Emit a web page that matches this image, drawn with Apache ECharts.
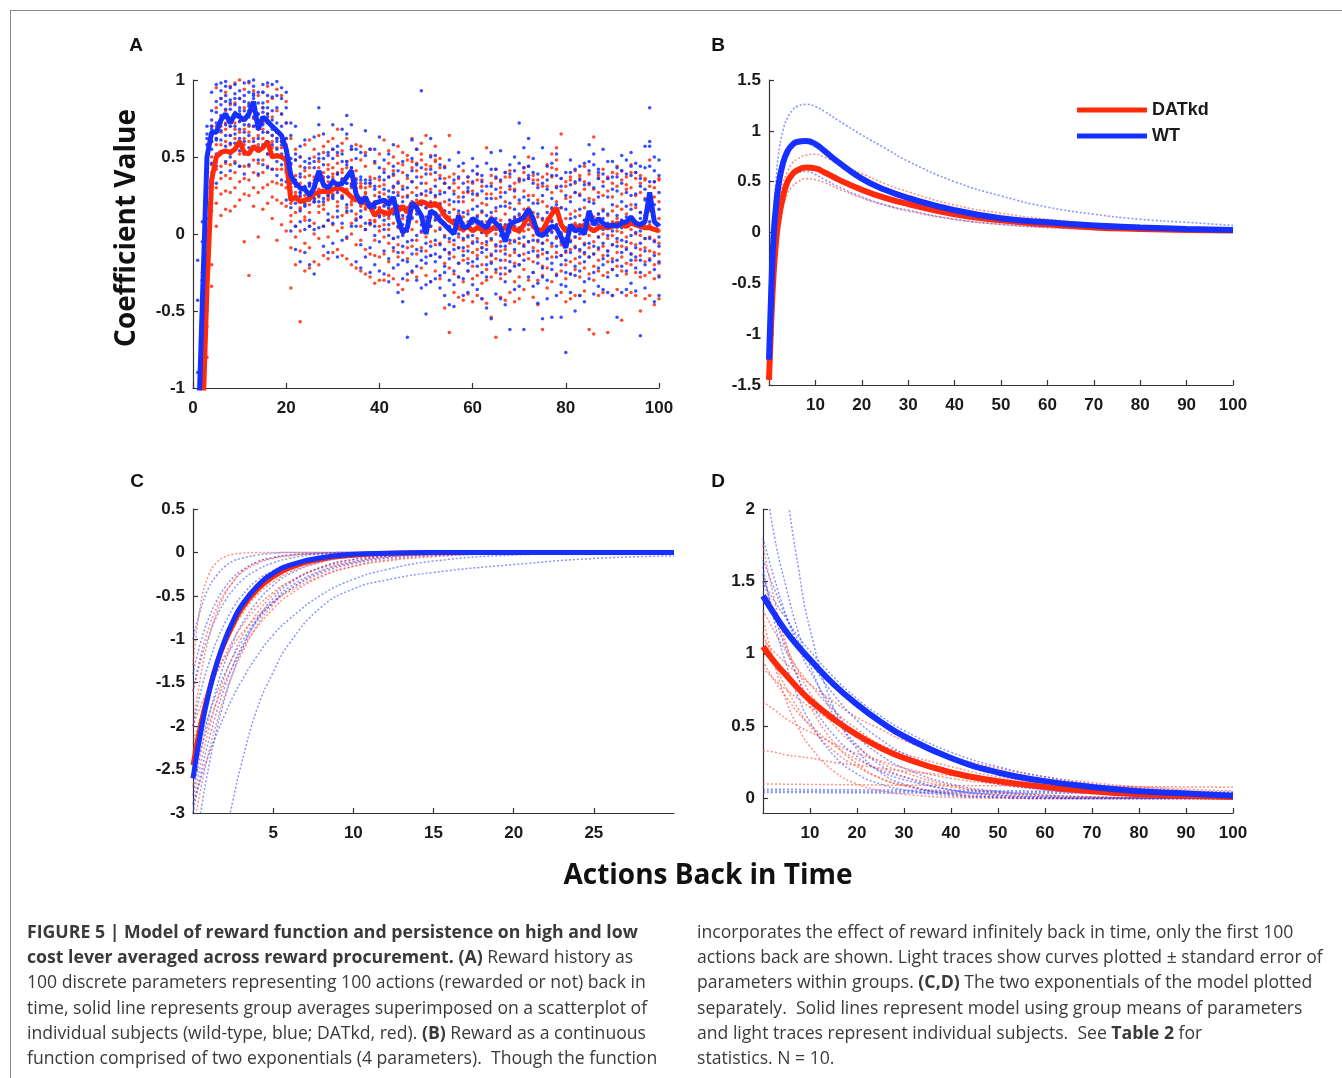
<!DOCTYPE html>
<html><head><meta charset="utf-8">
<script src="https://cdn.jsdelivr.net/npm/echarts@6/dist/echarts.min.js"></script>
<style>html,body{margin:0;padding:0;background:#fff}#c{width:1342px;height:1078px}</style>
</head><body><div id="c"></div>
<script>
// ---------- Panel A: group means (lags 1..100) ----------
const WT_MEAN_A = [-1.4,-0.45,0.5,0.66,0.66,0.74,0.78,0.72,0.78,0.76,0.74,0.78,0.86,0.68,0.76,0.73,0.7,0.67,0.64,0.55,
0.38,0.33,0.3,0.29,0.25,0.3,0.41,0.32,0.3,0.34,0.32,0.33,0.37,0.41,0.26,0.2,0.24,0.17,0.2,0.21,
0.22,0.19,0.24,0.1,0.01,0.04,0.2,0.17,0.12,0.0,0.15,0.13,0.09,0.06,0.03,0.0,0.12,0.04,0.05,0.1,
0.08,0.06,0.04,0.1,0.07,0.04,-0.05,0.06,0.08,0.09,0.11,0.16,0.1,0.0,-0.01,0.02,0.05,0.04,-0.02,-0.09,
0.06,0.02,0.03,0.0,0.15,0.06,0.1,0.07,0.05,0.06,0.05,0.07,0.08,0.11,0.07,0.06,0.08,0.27,0.08,0.05];
const KD_MEAN_A = [-2.2,-1.3,-0.35,0.35,0.5,0.53,0.54,0.53,0.55,0.6,0.53,0.52,0.57,0.54,0.56,0.6,0.5,0.51,0.5,0.48,
0.22,0.24,0.21,0.22,0.23,0.26,0.27,0.28,0.27,0.29,0.3,0.29,0.27,0.24,0.22,0.23,0.2,0.18,0.12,0.15,
0.14,0.13,0.16,0.15,0.18,0.14,0.2,0.19,0.21,0.2,0.18,0.2,0.17,0.12,0.09,0.07,0.04,0.03,0.05,0.02,
0.04,0.03,0.01,0.03,0.05,0.03,0.04,0.06,0.03,0.02,0.06,0.13,0.05,0.03,0.02,0.08,0.13,0.17,0.06,0.02,
0.03,0.05,0.04,0.06,0.04,0.02,0.04,0.05,0.04,0.05,0.07,0.06,0.05,0.07,0.06,0.05,0.04,0.04,0.03,0.02];

// ---------- Panel A: individual subjects, one row per lag (values x100) ----------
const WT_SUBJ_A = [
[-17,-43,-90,-120,-150,-160,-180,-140,-200,-130],[8,-5,-25,-40,-55,-70,-45,-30,-90,-60],[65,58,52,40,20,46,70,30,50,62],
[92,80,74,70,64,60,55,46,36,68],[97,86,79,72,66,61,52,44,33,62],[98,93,84,77,72,67,61,53,40,88],[96,90,86,81,76,71,64,57,47,99],
[95,87,81,74,70,64,59,50,41,85],[97,91,84,79,76,70,65,59,46,88],[93,88,82,78,73,68,62,54,44,80],[90,86,80,75,71,66,60,52,39,98],
[99,92,85,80,76,71,64,56,45,83],[100,96,91,88,85,81,76,70,60,90],[92,85,78,73,68,62,56,48,39,70],[97,92,85,79,75,71,66,58,45,82],
[98,90,82,76,72,66,60,52,43,78],[97,89,80,74,70,64,58,50,42,68],[99,90,82,72,66,60,55,47,38,62],[95,88,78,70,64,58,52,45,35,60],
[92,82,72,62,56,48,41,34,22,50],
[72,64,49,46,35,33,22,17,2,28],[70,52,48,35,34,23,20,5,-10,31],[57,50,39,37,27,27,15,8,-18,25],[61,47,43,30,31,19,18,3,-12,30],
[49,46,33,32,22,22,9,5,-20,31],[63,47,43,31,33,21,21,3,-26,23],[82,71,52,49,37,37,25,21,4,35],[65,49,45,33,33,23,21,5,-8,31],
[53,51,37,37,25,25,13,9,-12,27],[71,55,49,35,35,25,23,7,-6,33],[57,53,39,39,29,29,15,11,-15,27],[68,52,47,35,35,24,23,7,-4,32],
[77,65,47,45,33,33,19,15,-2,37],[71,57,55,43,43,32,31,15,5,41],[55,49,35,33,22,23,9,5,-18,25],[53,37,35,21,23,11,11,-7,-22,15],
[67,51,35,33,21,21,7,3,-15,23],[55,35,33,19,19,7,7,-9,-25,17],[55,47,31,29,17,17,5,-1,-20,19],[63,43,37,24,24,12,11,-5,-24,15],
[48,35,29,22,18,9,3,-11,-26,40],[52,28,24,17,12,6,-1,-16,-31,37],[44,39,31,27,20,13,-3,-9,-22,58],[33,25,18,9,5,-2,-12,-20,-38,41],
[29,21,12,6,-1,-8,-17,-29,-44,47],[38,30,16,11,2,-5,-18,-26,-67,24],[61,41,34,21,16,10,-4,-13,-24,49],[45,37,25,18,13,-1,-10,-21,-30,55],
[93,33,26,19,6,2,-11,-17,-35,43],[28,17,11,3,-6,-15,-19,-33,-52,39],[50,42,27,20,11,5,-8,-14,-31,62],[40,31,25,14,9,-4,-13,-18,-29,51],
[36,26,19,8,3,-7,-15,-27,-35,45],[43,27,15,7,-2,-10,-21,-25,-40,33],[30,22,14,5,-3,-12,-16,-30,-46,48],[35,21,9,1,-4,-10,-24,-33,-47,26],
[44,37,21,15,9,0,-9,-19,-28,53],[33,24,14,7,-3,-9,-14,-29,-40,46],[37,28,13,4,-2,-11,-19,-24,-38,30],[41,34,26,16,7,-1,-6,-18,-33,49],
[39,26,18,11,4,-5,-16,-21,-36,44],[34,28,15,8,1,-9,-12,-25,-42,38],[46,23,12,5,-5,-10,-20,-28,-48,31],[42,31,23,14,9,-3,-14,-19,-55,53],
[37,29,17,10,3,-7,-11,-23,-39,42],[54,24,18,6,-1,-8,-17,-26,-42,35],[27,18,6,-2,-8,-13,-22,-31,-46,40],[39,31,20,9,2,-4,-18,-24,-62,45],
[41,28,16,11,5,-5,-10,-21,-36,50],[72,35,22,13,4,-3,-14,-20,-34,46],[43,35,24,12,7,-2,-8,-17,-62,56],[62,44,36,22,13,6,-5,-12,-28,38],
[40,33,20,11,6,-4,-11,-25,-34,49],[30,20,13,2,-4,-14,-19,-32,-45,39],[56,25,10,3,-6,-10,-22,-28,-55,33],[35,29,14,5,-1,-12,-16,-30,-42,44],
[46,23,17,8,1,-6,-19,-23,-54,38],[38,30,19,6,-2,-8,-15,-27,-40,52],[31,17,8,0,-5,-14,-20,-33,-54,36],[25,16,4,-3,-11,-17,-25,-34,-77,40],
[40,32,21,10,3,-5,-12,-26,-38,48],[34,27,11,4,-2,-9,-21,-27,-50,42],[44,25,16,6,0,-10,-15,-24,-40,35],[32,22,9,1,-7,-12,-18,-31,-44,46],
[58,41,33,21,12,4,-6,-15,-29,47],[45,30,20,8,2,-8,-13,-25,-39,52],[42,36,24,13,6,-2,-9,-22,-34,40],[39,31,15,10,3,-6,-16,-20,-36,55],
[36,24,13,7,-1,-11,-14,-28,-38,47],[47,29,19,6,2,-7,-18,-23,-40,37],[37,28,12,5,-3,-8,-17,-27,-54,43],[41,33,21,9,4,-4,-12,-21,-38,51],
[48,27,18,11,5,-5,-10,-24,-36,39],[44,38,25,16,8,-1,-13,-17,-32,53],[40,26,19,7,1,-9,-15,-22,-37,46],[36,31,14,10,2,-6,-17,-25,-66,44],
[43,29,22,12,5,-3,-11,-20,-35,57],[82,57,44,34,25,16,8,-3,-17,60],[50,34,19,10,3,-5,-14,-23,-44,41],[38,27,16,6,-2,-8,-18,-28,-40,48]];
const KD_SUBJ_A = [
[-120,-150,-180,-200,-250,-230,-280,-190,-210,-260],[-60,-90,-110,-130,-150,-170,-100,-140,-200,-120],[10,-5,-20,-35,-45,-60,-80,-30,-50,-25],
[70,60,50,40,35,25,15,-20,-34,45],[95,82,70,58,50,42,30,20,5,62],[88,76,66,58,52,44,36,26,12,70],[92,80,68,60,54,46,38,28,16,72],
[96,84,70,58,52,45,36,27,15,64],[98,85,72,62,55,47,40,30,18,68],[100,88,76,66,60,52,44,34,22,73],[94,82,68,58,52,44,36,26,-5,62],
[98,84,70,60,52,44,35,25,-27,66],[93,80,70,62,56,48,40,30,18,75],[90,78,68,58,54,46,38,27,-2,64],[92,82,72,62,56,48,40,30,16,68],
[96,86,74,66,60,52,44,32,20,78],[88,76,64,56,50,42,34,24,10,60],[94,80,66,56,50,42,33,22,-4,62],[90,78,64,56,50,42,32,20,6,60],
[86,72,62,54,48,40,30,18,2,58],
[62,45,36,30,20,12,8,-9,-35,27],[55,48,33,27,25,14,5,-2,-20,38],[50,44,29,24,17,16,2,-11,-57,33],[58,41,37,25,20,11,9,-6,-24,29],
[61,43,38,26,19,14,5,-9,-22,33],[55,50,35,32,23,21,7,0,-18,37],[64,47,43,29,24,18,14,-3,-20,35],[57,53,37,35,27,19,16,5,-14,40],
[60,45,42,30,23,22,9,-2,-16,34],[62,55,39,37,26,24,11,6,-12,43],[68,51,46,33,31,21,18,2,-10,40],[59,54,40,36,25,24,12,4,-14,42],
[62,47,43,29,28,17,14,-3,-16,36],[55,48,33,30,21,19,7,0,-20,37],[58,41,36,24,23,13,10,-7,-22,30],[57,48,31,30,19,18,5,-4,-24,33],
[53,44,30,26,17,16,3,-10,-26,27],[55,37,33,19,20,9,6,-13,-28,31],[46,36,21,18,9,8,-4,-14,-32,25],[52,35,31,17,17,5,2,-15,-30,27],
[61,32,26,19,12,6,-2,-13,-30,42],[46,37,22,16,10,3,-6,-18,-27,54],[50,41,30,21,14,7,-3,-11,-29,38],[57,34,27,18,13,4,-7,-15,-33,46],
[53,45,31,24,16,10,0,-12,-36,40],[48,36,25,17,9,2,-9,-16,-30,51],[62,43,34,27,19,11,3,-8,-25,47],[55,46,30,22,15,8,-4,-13,-28,41],
[59,48,37,26,20,12,1,-9,-22,52],[64,42,33,25,17,9,-2,-11,-27,45],[51,44,29,21,14,5,-5,-14,-31,39],[57,47,35,24,18,10,2,-7,-24,48],
[49,38,28,20,12,4,-6,-15,-29,43],[44,33,21,15,7,-1,-10,-19,-48,36],[64,30,19,11,4,-5,-13,-22,-64,37],[39,28,16,9,1,-7,-15,-26,-38,33],
[36,24,13,5,-2,-9,-19,-28,-41,30],[41,21,11,2,-4,-11,-17,-31,-43,27],[37,27,15,8,-1,-8,-16,-24,-39,34],[33,22,10,3,-5,-12,-21,-29,-44,28],
[39,25,12,6,-3,-10,-14,-27,-40,35],[35,20,14,1,-6,-9,-20,-32,-42,31],[56,19,8,-1,-7,-15,-23,-30,-45,26],[38,26,11,4,-4,-13,-18,-28,-54,33],
[42,23,15,7,0,-8,-16,-25,-67,36],[34,27,9,2,-5,-11,-22,-29,-41,30],[40,21,13,5,-2,-10,-17,-26,-43,37],[37,29,17,9,1,-6,-14,-24,-38,41],
[33,24,10,3,-4,-12,-19,-31,-44,29],[36,20,12,1,-6,-14,-20,-28,-42,34],[43,28,16,8,2,-7,-13,-23,-36,40],[50,36,25,17,10,3,-5,-16,-30,44],
[38,25,14,6,-1,-9,-18,-25,-41,35],[35,22,11,2,-5,-11,-15,-30,-46,32],[31,21,9,0,-6,-13,-21,-27,-62,37],[45,31,18,10,3,-4,-12,-22,-35,39],
[52,37,27,16,9,2,-8,-15,-31,43],[56,42,31,21,14,6,-3,-12,-26,48],[65,28,17,8,1,-7,-14,-24,-38,36],[34,23,10,3,-5,-12,-20,-29,-44,31],
[37,24,13,4,-4,-10,-18,-26,-42,35],[41,27,15,7,-2,-8,-16,-23,-40,33],[36,26,12,5,-3,-11,-19,-28,-40,38],[44,29,17,9,0,-6,-13,-22,-37,34],
[39,23,14,6,-1,-9,-15,-26,-62,32],[63,22,11,2,-5,-13,-21,-30,-65,29],[38,27,13,4,-2,-10,-17,-24,-40,36],[42,25,16,7,0,-8,-14,-27,-38,34],
[36,28,12,5,-3,-11,-18,-25,-64,37],[40,24,15,8,-1,-7,-16,-23,-40,33],[44,31,18,10,2,-5,-12,-21,-36,39],[41,26,16,9,1,-8,-15,-24,-56,35],
[37,29,13,6,-2,-9,-19,-26,-40,32],[45,30,19,11,3,-6,-13,-20,-38,40],[40,25,17,8,0,-7,-17,-25,-40,36],[38,27,14,7,-1,-10,-14,-28,-50,33],
[35,23,12,5,-3,-9,-18,-27,-42,36],[48,26,15,6,-2,-11,-16,-25,-40,31],[34,24,11,3,-4,-12,-20,-29,-46,30],[36,21,10,2,-6,-13,-19,-27,-42,35]];

// ---------- Panel B: full model (sampled) ----------
const XS_B = [0,0.5,1,1.5,2,3,4,5,6,8,10,12,15,20,25,30,40,50,60,70,80,90,100];
const WT_B    = [-1.25,-0.55,-0.02,0.25,0.45,0.68,0.8,0.86,0.89,0.9,0.87,0.8,0.69,0.53,0.42,0.34,0.22,0.14,0.1,0.07,0.05,0.035,0.025];
const KD_B    = [-1.45,-0.85,-0.4,-0.1,0.1,0.35,0.5,0.57,0.61,0.64,0.63,0.59,0.52,0.42,0.34,0.28,0.18,0.12,0.08,0.05,0.035,0.025,0.02];
const WT_B_HI = [-1.0,-0.3,0.2,0.5,0.75,1.0,1.13,1.2,1.24,1.26,1.24,1.19,1.1,0.96,0.83,0.7,0.5,0.36,0.25,0.18,0.13,0.1,0.07];
const WT_B_LO = [-1.45,-0.8,-0.3,-0.02,0.2,0.4,0.5,0.56,0.59,0.6,0.57,0.52,0.45,0.35,0.27,0.22,0.13,0.08,0.05,0.035,0.025,0.02,0.015];
const KD_B_HI = [-1.3,-0.7,-0.2,0.05,0.25,0.48,0.6,0.68,0.72,0.76,0.77,0.74,0.68,0.58,0.48,0.4,0.27,0.19,0.13,0.09,0.07,0.055,0.04];
const KD_B_LO = [-1.6,-1.0,-0.55,-0.22,0.0,0.25,0.38,0.45,0.49,0.53,0.52,0.49,0.43,0.34,0.27,0.21,0.13,0.08,0.05,0.035,0.025,0.02,0.015];

// ---------- Panel C: first exponential (sampled) ----------
const XS_C = [0,0.5,1,1.5,2,2.5,3,4,5,6,8,10,12,15,20,25,30];
const WT_C = [-2.6,-2.05,-1.61,-1.27,-1.0,-0.79,-0.62,-0.39,-0.24,-0.15,-0.06,-0.022,-0.009,-0.002,0,0,0];
const KD_C = [-2.45,-1.97,-1.59,-1.27,-1.03,-0.83,-0.66,-0.43,-0.28,-0.18,-0.076,-0.032,-0.013,-0.004,0,0,0];
const KD_C_TRACES = [
[-1.3,-0.57,-0.25,-0.11,-0.05,-0.02,-0.01,0,0,0,0,0,0,0,0,0,0],
[-2.0,-1.4,-0.98,-0.69,-0.48,-0.34,-0.23,-0.11,-0.06,-0.03,-0.01,0,0,0,0,0,0],
[-2.7,-2.1,-1.64,-1.27,-0.99,-0.77,-0.6,-0.36,-0.22,-0.14,-0.05,-0.02,-0.01,0,0,0,0],
[-2.3,-1.9,-1.57,-1.29,-1.06,-0.88,-0.73,-0.49,-0.34,-0.23,-0.11,-0.05,-0.02,-0.01,0,0,0],
[-2.9,-2.42,-2.03,-1.7,-1.42,-1.19,-0.99,-0.7,-0.49,-0.34,-0.17,-0.08,-0.04,-0.01,0,0,0],
[-2.2,-1.88,-1.61,-1.38,-1.18,-1.01,-0.86,-0.63,-0.46,-0.34,-0.18,-0.1,-0.05,-0.02,0,0,0],
[-2.6,-2.26,-1.97,-1.71,-1.49,-1.3,-1.13,-0.86,-0.65,-0.49,-0.28,-0.16,-0.09,-0.04,-0.01,0,0],
[-3.2,-2.71,-2.29,-1.94,-1.64,-1.39,-1.18,-0.84,-0.6,-0.43,-0.22,-0.12,-0.06,-0.02,0,0,0],
[-2.0,-1.76,-1.56,-1.37,-1.21,-1.07,-0.94,-0.74,-0.57,-0.45,-0.27,-0.16,-0.1,-0.05,-0.01,0,0],
[-1.6,-1.17,-0.86,-0.63,-0.46,-0.34,-0.24,-0.13,-0.07,-0.04,-0.01,0,0,0,0,0,0]];
const WT_C_TRACES = [
[-1.0,-0.64,-0.4,-0.26,-0.16,-0.1,-0.07,-0.03,-0.01,0,0,0,0,0,0,0,0],
[-1.6,-1.23,-0.95,-0.73,-0.56,-0.43,-0.33,-0.2,-0.12,-0.07,-0.02,-0.01,0,0,0,0,0],
[-2.0,-1.59,-1.27,-1.01,-0.81,-0.64,-0.51,-0.32,-0.21,-0.13,-0.05,-0.02,-0.01,0,0,0,0],
[-2.8,-2.29,-1.88,-1.54,-1.26,-1.03,-0.84,-0.57,-0.38,-0.25,-0.11,-0.05,-0.02,-0.01,0,0,0],
[-3.6,-2.97,-2.45,-2.02,-1.67,-1.38,-1.14,-0.77,-0.53,-0.36,-0.17,-0.08,-0.04,-0.01,0,0,0],
[-2.5,-2.16,-1.86,-1.61,-1.39,-1.2,-1.04,-0.77,-0.58,-0.43,-0.24,-0.13,-0.07,-0.03,-0.01,0,0],
[-2.9,-2.6,-2.32,-2.08,-1.86,-1.66,-1.49,-1.19,-0.95,-0.77,-0.49,-0.31,-0.2,-0.1,-0.03,-0.01,0],
[-6.0,-5.2,-4.5,-3.9,-3.3,-2.85,-2.45,-1.8,-1.38,-1.05,-0.63,-0.42,-0.32,-0.23,-0.14,-0.07,-0.04],
[-3.0,-2.54,-2.15,-1.82,-1.54,-1.3,-1.1,-0.79,-0.57,-0.4,-0.21,-0.11,-0.05,-0.02,0,0,0],
[-1.4,-1.02,-0.75,-0.55,-0.4,-0.29,-0.21,-0.11,-0.06,-0.03,-0.01,0,0,0,0,0,0]];

// ---------- Panel D: second exponential (sampled) ----------
const XS_D = [0,2.5,5,7.5,10,15,20,25,30,40,50,60,70,80,90,100];
const WT_D = [1.4,1.27,1.15,1.05,0.96,0.79,0.65,0.53,0.43,0.28,0.18,0.12,0.08,0.05,0.035,0.02];
const KD_D = [1.05,0.94,0.85,0.76,0.68,0.55,0.44,0.35,0.28,0.18,0.12,0.08,0.05,0.03,0.02,0.01];
const WT_D_TRACES = [
[2.3,1.8,1.45,1.15,0.92,0.58,0.37,0.23,0.15,0.06,0.025,0.01,0,0,0,0],
[4.0,2.9,2.15,1.6,1.17,0.63,0.34,0.18,0.1,0.03,0.01,0,0,0,0,0],
[1.8,1.51,1.26,1.05,0.88,0.62,0.43,0.3,0.21,0.1,0.05,0.025,0.012,0.006,0.003,0.001],
[1.65,1.44,1.25,1.09,0.95,0.72,0.54,0.41,0.31,0.18,0.1,0.06,0.034,0.019,0.011,0.006],
[1.55,1.26,1.02,0.83,0.67,0.44,0.29,0.19,0.13,0.06,0.024,0.01,0.004,0.002,0.001,0],
[1.6,1.21,0.92,0.7,0.53,0.3,0.17,0.1,0.06,0.02,0.006,0.002,0,0,0,0],
[1.5,1.36,1.24,1.12,1.02,0.84,0.69,0.57,0.47,0.32,0.22,0.15,0.1,0.07,0.05,0.03],
[0.065,0.064,0.064,0.063,0.062,0.061,0.06,0.059,0.058,0.056,0.054,0.052,0.05,0.048,0.046,0.045],
[0.052,0.052,0.051,0.051,0.05,0.05,0.049,0.049,0.048,0.047,0.046,0.045,0.044,0.043,0.042,0.041],
[0.042,0.042,0.041,0.041,0.041,0.04,0.04,0.039,0.039,0.038,0.037,0.036,0.036,0.035,0.034,0.034]];
const KD_D_TRACES = [
[1.75,1.36,1.06,0.83,0.64,0.39,0.24,0.14,0.09,0.03,0.01,0,0,0,0,0],
[1.3,1.15,1.01,0.89,0.79,0.61,0.48,0.37,0.29,0.18,0.11,0.065,0.039,0.023,0.014,0.009],
[1.1,1.01,0.93,0.86,0.79,0.67,0.56,0.48,0.4,0.29,0.21,0.15,0.11,0.08,0.055,0.04],
[0.95,0.81,0.7,0.59,0.51,0.37,0.27,0.2,0.15,0.08,0.04,0.02,0.01,0.006,0.003,0.002],
[0.9,0.82,0.75,0.69,0.63,0.53,0.44,0.37,0.31,0.22,0.15,0.11,0.07,0.05,0.036,0.025],
[0.67,0.61,0.55,0.5,0.46,0.38,0.31,0.26,0.21,0.14,0.1,0.07,0.046,0.031,0.021,0.014],
[0.33,0.32,0.3,0.29,0.28,0.25,0.23,0.21,0.19,0.16,0.13,0.11,0.09,0.08,0.064,0.053],
[0.1,0.1,0.099,0.098,0.097,0.096,0.095,0.093,0.092,0.09,0.088,0.086,0.084,0.082,0.08,0.078],
[1.15,0.93,0.76,0.62,0.5,0.33,0.22,0.14,0.09,0.04,0.018,0.008,0.003,0.001,0,0],
[1.25,0.92,0.67,0.49,0.36,0.19,0.1,0.055,0.03,0.008,0.002,0,0,0,0,0],
[1.5,1.26,1.05,0.88,0.73,0.51,0.36,0.25,0.18,0.09,0.04,0.02,0.01,0.005,0.002,0.001]];

// ---------- text ----------
const CAPTION_LEFT = [
  '{b|FIGURE 5 | Model of reward function and persistence on high and low}',
  '{b|cost lever averaged across reward procurement. (A)}{r| Reward history as}',
  '{r|100 discrete parameters representing 100 actions (rewarded or not) back in}',
  '{r|time, solid line represents group averages superimposed on a scatterplot of}',
  '{r|individual subjects (wild-type, blue; DATkd, red). }{b|(B)}{r| Reward as a continuous}',
  '{r|function comprised of two exponentials (4 parameters).  Though the function}'];
const CAPTION_RIGHT = [
  '{r|incorporates the effect of reward infinitely back in time, only the first 100}',
  '{r|actions back are shown. Light traces show curves plotted ± standard error of}',
  '{r|parameters within groups. }{b|(C,D)}{r| The two exponentials of the model plotted}',
  '{r|separately.  Solid lines represent model using group means of parameters}',
  '{r|and light traces represent individual subjects.  See }{b|Table 2}{r| for}',
  '{r|statistics. N = 10.}'];

// ---------- build ----------
const RED = '#ff2a0a', BLUE = '#1530ff';
const LRED = 'rgba(255,70,50,0.6)', LBLUE = 'rgba(40,60,255,0.55)';
const FONT = 'Liberation Sans, Arial, Helvetica, sans-serif';
const pairs = (xs, ys) => xs.map((x, i) => [x, ys[i]]);
const lagPts = arr => arr.map((v, i) => [i + 1, v]);
function subjPts(rows) { const out = []; rows.forEach((r, i) => r.forEach(v => out.push([i + 1, v / 100]))); return out; }

const LBL = { fontFamily: FONT, fontWeight: 'bold', fontSize: 17, color: '#1a1a1a' };
function axis(grid, min, max, interval, lblExtra, tickExtra, margin) {
  return {
    type: 'value', gridIndex: grid, min: min, max: max, interval: interval,
    splitLine: { show: false },
    axisLine: { show: true, onZero: false, lineStyle: { color: '#333', width: 1.2 } },
    axisTick: Object.assign({ show: true, inside: true, length: 5, lineStyle: { color: '#333', width: 1.2 } }, tickExtra || {}),
    axisLabel: Object.assign({ margin: margin }, LBL, lblExtra || {})
  };
}

const series = [];
function lineS(name, xi, yi, data, color, width, mode, z) {
  series.push({ name: name, type: 'line', xAxisIndex: xi, yAxisIndex: yi, data: data, showSymbol: false, symbol: 'none',
    smooth: mode === 'raw' ? false : true, silent: true, z: z,
    lineStyle: { color: color, width: width, type: mode === 'dot' ? [2, 2] : 'solid' }, itemStyle: { color: color } });
}
// A
series.push({ name: 'KD subjects', type: 'scatter', xAxisIndex: 0, yAxisIndex: 0, data: subjPts(KD_SUBJ_A), symbolSize: 3.5, itemStyle: { color: RED, opacity: 0.85 }, silent: true, z: 2 });
series.push({ name: 'WT subjects', type: 'scatter', xAxisIndex: 0, yAxisIndex: 0, data: subjPts(WT_SUBJ_A), symbolSize: 3.5, itemStyle: { color: BLUE, opacity: 0.85 }, silent: true, z: 2 });
lineS('KD mean A', 0, 0, lagPts(KD_MEAN_A), RED, 5, 'raw', 3);
lineS('WT mean A', 0, 0, lagPts(WT_MEAN_A), BLUE, 5, 'raw', 4);
// B
lineS('KD hi', 1, 1, pairs(XS_B, KD_B_HI), LRED, 1.6, 'dot', 2);
lineS('KD lo', 1, 1, pairs(XS_B, KD_B_LO), LRED, 1.6, 'dot', 2);
lineS('WT hi', 1, 1, pairs(XS_B, WT_B_HI), LBLUE, 1.6, 'dot', 2);
lineS('WT lo', 1, 1, pairs(XS_B, WT_B_LO), LBLUE, 1.6, 'dot', 2);
lineS('DATkd', 1, 1, pairs(XS_B, KD_B), RED, 6, 'solid', 3);
lineS('WT', 1, 1, pairs(XS_B, WT_B), BLUE, 6, 'solid', 4);
// C
KD_C_TRACES.forEach((t, i) => lineS('KD c' + i, 2, 2, pairs(XS_C, t), LRED, 1.5, 'dot', 2));
WT_C_TRACES.forEach((t, i) => lineS('WT c' + i, 2, 2, pairs(XS_C, t), LBLUE, 1.5, 'dot', 2));
lineS('KD mean C', 2, 2, pairs(XS_C, KD_C), RED, 5, 'solid', 3);
lineS('WT mean C', 2, 2, pairs(XS_C, WT_C), BLUE, 5, 'solid', 4);
// D
KD_D_TRACES.forEach((t, i) => lineS('KD d' + i, 3, 3, pairs(XS_D, t), LRED, 1.5, 'dot', 2));
WT_D_TRACES.forEach((t, i) => lineS('WT d' + i, 3, 3, pairs(XS_D, t), LBLUE, 1.5, 'dot', 2));
lineS('KD mean D', 3, 3, pairs(XS_D, KD_D), RED, 6, 'solid', 3);
lineS('WT mean D', 3, 3, pairs(XS_D, WT_D), BLUE, 6, 'solid', 4);

const graphic = [
  { type: 'line', shape: { x1: 10, y1: 10.5, x2: 1342, y2: 10.5 }, style: { stroke: '#8c8c8c', lineWidth: 1 }, silent: true },
  { type: 'line', shape: { x1: 10.5, y1: 10, x2: 10.5, y2: 1078 }, style: { stroke: '#8c8c8c', lineWidth: 1 }, silent: true },
];
[['A', 136, 46], ['B', 718, 46], ['C', 137, 482], ['D', 718, 482]].forEach(p => graphic.push({
  type: 'text', x: p[1], y: p[2], silent: true,
  style: { text: p[0], font: 'bold 19px ' + FONT, fill: '#111', align: 'center', verticalAlign: 'middle' } }));
graphic.push({ type: 'text', x: 127, y: 228, rotation: Math.PI / 2, silent: true,
  style: { text: 'Coefficient Value', font: 'bold 28px "Open Sans", sans-serif', fill: '#111', align: 'center', verticalAlign: 'middle' } });
graphic.push({ type: 'text', x: 708, y: 876, silent: true,
  style: { text: 'Actions Back in Time', font: 'bold 28px "Open Sans", sans-serif', fill: '#111', align: 'center', verticalAlign: 'middle' } });
const CAP_RICH = {
  r: { fontFamily: '"Open Sans", sans-serif', fontSize: 17.6, fontWeight: 400, color: '#3a3a3a' },
  b: { fontFamily: '"Open Sans", sans-serif', fontSize: 17.7, fontWeight: 700, color: '#2a2a2a' } };
CAPTION_LEFT.forEach((t, i) => graphic.push({ type: 'text', x: 27, y: 933 + i * 25.2, silent: true,
  style: { text: t, rich: CAP_RICH, font: '17.6px "Open Sans", sans-serif', fill: '#3a3a3a', verticalAlign: 'middle' } }));
CAPTION_RIGHT.forEach((t, i) => graphic.push({ type: 'text', x: 697, y: 933 + i * 25.2, silent: true,
  style: { text: t, rich: CAP_RICH, font: '17.6px "Open Sans", sans-serif', fill: '#3a3a3a', verticalAlign: 'middle' } }));

const chart = echarts.init(document.getElementById('c'), null, { renderer: 'canvas' });
chart.setOption({
  backgroundColor: '#ffffff',
  animation: false,
  grid: [
    { left: 193, top: 80, width: 466, height: 308 },
    { left: 769, top: 80, width: 464, height: 305 },
    { left: 193, top: 509, width: 481, height: 304 },
    { left: 763, top: 509, width: 470, height: 304 }
  ],
  xAxis: [
    axis(0, 0, 100, 20, null, null, 12),
    axis(1, 0, 100, 10, { showMinLabel: false }, null, 12),
    axis(2, 0, 30, 5, { showMinLabel: false, showMaxLabel: false }, null, 12),
    axis(3, 0, 100, 10, { showMinLabel: false }, null, 12)
  ],
  yAxis: [
    axis(0, -1, 1, 0.5, null, null, 8),
    axis(1, -1.5, 1.5, 0.5, null, null, 8),
    axis(2, -3, 0.5, 0.5, null, null, 8),
    axis(3, -0.1, 2, 0.5, { customValues: [0, 0.5, 1, 1.5, 2] }, { customValues: [0, 0.5, 1, 1.5, 2] }, 8)
  ],
  legend: {
    data: ['DATkd', 'WT'], left: 1072, top: 96, orient: 'vertical', icon: 'rect',
    itemWidth: 70, itemHeight: 5, itemGap: 8, selectedMode: false,
    textStyle: { fontFamily: FONT, fontWeight: 'bold', fontSize: 18, color: '#1a1a1a', lineHeight: 17 }
  },
  series: series,
  graphic: graphic
});
</script></body></html>
